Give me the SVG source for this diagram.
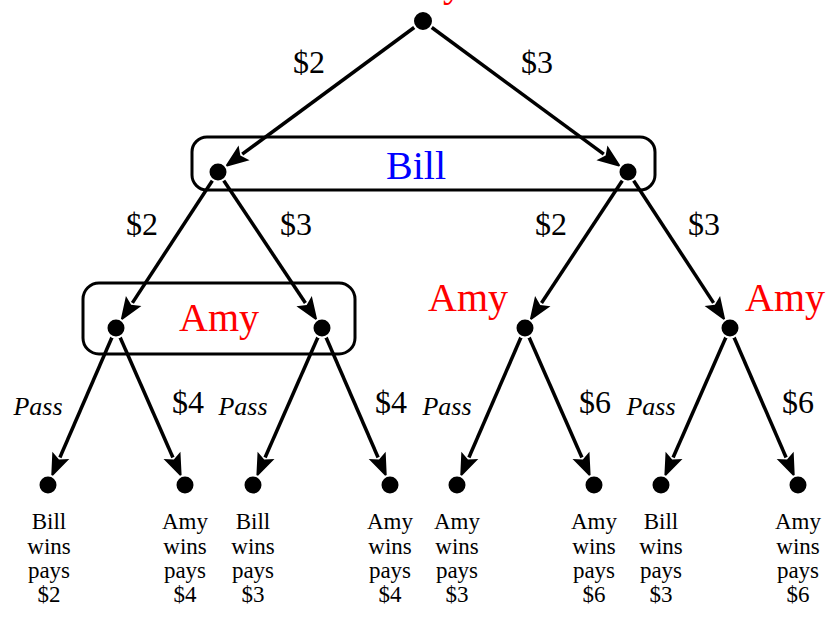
<svg xmlns="http://www.w3.org/2000/svg" width="840" height="617" viewBox="0 0 840 617">
<style>
text{font-family:"Liberation Serif","Times New Roman",serif;}
.lbl{font-size:32px;fill:#000;text-anchor:middle;}
.pass{font-size:26px;font-style:italic;fill:#000;text-anchor:middle;}
.amy{font-size:40px;fill:#ff0000;text-anchor:middle;}
.bill{font-size:40px;fill:#0000ff;text-anchor:middle;}
.leaf{font-size:23px;fill:#000;text-anchor:middle;}
.box{fill:none;stroke:#000;stroke-width:3;}
.edge{stroke:#000;stroke-width:3.5;fill:none;marker-end:url(#arr);}
.dot{fill:#000;stroke:#fff;stroke-width:2;}
</style>
<defs>
<marker id="arr" markerUnits="userSpaceOnUse" markerWidth="30" markerHeight="30" refX="0" refY="0" viewBox="-4 -10 26 20" orient="auto" overflow="visible">
<path d="M-2,-8 L19,0 L-2,8 L2,0 Z" fill="#000"/>
</marker>
</defs>
<g id="boxes">
<rect id="bill-set" class="box" x="192" y="137" width="463" height="53" rx="15"/>
<rect id="amy-set" class="box" x="83" y="283" width="272" height="71" rx="16"/>
</g>
<g id="connectors">
<line class="edge" x1="423" y1="21" x2="242.2" y2="154.2"/>
<line class="edge" x1="423" y1="21" x2="603.8" y2="154.2"/>
<line class="edge" x1="218" y1="172" x2="132.4" y2="302.9"/>
<line class="edge" x1="218" y1="172" x2="305.4" y2="303"/>
<line class="edge" x1="628" y1="172" x2="541.5" y2="303"/>
<line class="edge" x1="628" y1="172" x2="713.6" y2="302.9"/>
<line class="edge" x1="116" y1="328" x2="59.9" y2="457.5"/>
<line class="edge" x1="116" y1="328" x2="172.9" y2="457.5"/>
<line class="edge" x1="322" y1="328" x2="265.1" y2="457.5"/>
<line class="edge" x1="322" y1="328" x2="378.1" y2="457.5"/>
<line class="edge" x1="525" y1="328" x2="468.9" y2="457.5"/>
<line class="edge" x1="525" y1="328" x2="581.9" y2="457.5"/>
<line class="edge" x1="730" y1="328" x2="673.1" y2="457.5"/>
<line class="edge" x1="730" y1="328" x2="786.1" y2="457.5"/>
</g>
<g id="edge-labels">
<text class="lbl" x="309" y="73">$2</text>
<text class="lbl" x="537" y="73">$3</text>
<text class="lbl" x="142" y="235">$2</text>
<text class="lbl" x="296" y="235">$3</text>
<text class="lbl" x="551" y="235">$2</text>
<text class="lbl" x="704" y="235">$3</text>
<text class="pass" x="38" y="415">Pass</text>
<text class="lbl" x="188" y="413">$4</text>
<text class="pass" x="243" y="415">Pass</text>
<text class="lbl" x="391" y="413">$4</text>
<text class="pass" x="447" y="415">Pass</text>
<text class="lbl" x="595" y="413">$6</text>
<text class="pass" x="651" y="415">Pass</text>
<text class="lbl" x="798" y="413">$6</text>
</g>
<g id="root">
<text class="amy" x="423" y="-4">Amy</text>
<circle class="dot" cx="423" cy="21" r="10"/>
</g>
<g id="bill">
<text class="bill" x="416" y="179">Bill</text>
<circle class="dot" cx="218" cy="172" r="9.5"/>
<circle class="dot" cx="628" cy="172" r="9.5"/>
</g>
<g id="amy-left">
<text class="amy" x="219" y="331">Amy</text>
<circle class="dot" cx="116" cy="328" r="9.5"/>
<circle class="dot" cx="322" cy="328" r="9.5"/>
</g>
<g id="amy-mid">
<text class="amy" x="468" y="311">Amy</text>
<circle class="dot" cx="525" cy="328" r="9.5"/>
</g>
<g id="amy-right">
<text class="amy" x="785" y="311">Amy</text>
<circle class="dot" cx="730" cy="328" r="9.5"/>
</g>
<g id="leaf1"><circle class="dot" cx="48" cy="485" r="9.5"/><text class="leaf"><tspan x="49" y="529">Bill</tspan><tspan x="49" y="553.5">wins</tspan><tspan x="49" y="578">pays</tspan><tspan x="49" y="602">$2</tspan></text></g>
<g id="leaf2"><circle class="dot" cx="185" cy="485" r="9.5"/><text class="leaf"><tspan x="185" y="529">Amy</tspan><tspan x="185" y="553.5">wins</tspan><tspan x="185" y="578">pays</tspan><tspan x="185" y="602">$4</tspan></text></g>
<g id="leaf3"><circle class="dot" cx="253" cy="485" r="9.5"/><text class="leaf"><tspan x="253" y="529">Bill</tspan><tspan x="253" y="553.5">wins</tspan><tspan x="253" y="578">pays</tspan><tspan x="253" y="602">$3</tspan></text></g>
<g id="leaf4"><circle class="dot" cx="390" cy="485" r="9.5"/><text class="leaf"><tspan x="390" y="529">Amy</tspan><tspan x="390" y="553.5">wins</tspan><tspan x="390" y="578">pays</tspan><tspan x="390" y="602">$4</tspan></text></g>
<g id="leaf5"><circle class="dot" cx="457" cy="485" r="9.5"/><text class="leaf"><tspan x="457" y="529">Amy</tspan><tspan x="457" y="553.5">wins</tspan><tspan x="457" y="578">pays</tspan><tspan x="457" y="602">$3</tspan></text></g>
<g id="leaf6"><circle class="dot" cx="594" cy="485" r="9.5"/><text class="leaf"><tspan x="594" y="529">Amy</tspan><tspan x="594" y="553.5">wins</tspan><tspan x="594" y="578">pays</tspan><tspan x="594" y="602">$6</tspan></text></g>
<g id="leaf7"><circle class="dot" cx="661" cy="485" r="9.5"/><text class="leaf"><tspan x="661" y="529">Bill</tspan><tspan x="661" y="553.5">wins</tspan><tspan x="661" y="578">pays</tspan><tspan x="661" y="602">$3</tspan></text></g>
<g id="leaf8"><circle class="dot" cx="798" cy="485" r="9.5"/><text class="leaf"><tspan x="798" y="529">Amy</tspan><tspan x="798" y="553.5">wins</tspan><tspan x="798" y="578">pays</tspan><tspan x="798" y="602">$6</tspan></text></g>
</svg>
